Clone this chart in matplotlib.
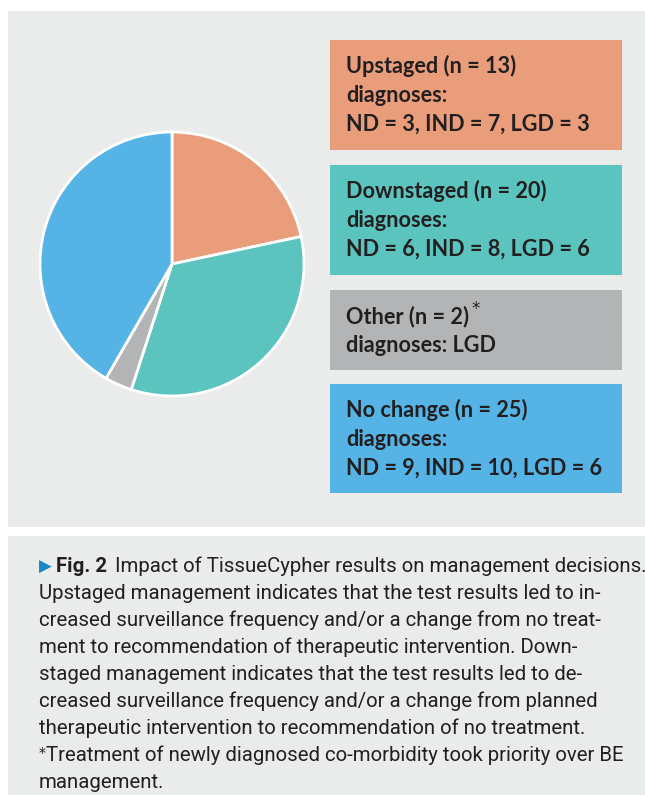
import matplotlib.pyplot as plt
from matplotlib.patches import Rectangle

# management change groups (clockwise from the top)
groups = ["Upstaged", "Downstaged", "Other", "No change"]
counts = [13, 20, 2, 25]
colors = ["#E99D7B", "#5CC4BE", "#B3B4B6", "#55B4E5"]
box_lines = [
    ["Upstaged (n = 13)", "diagnoses:", "ND = 3, IND = 7, LGD = 3"],
    ["Downstaged (n = 20)", "diagnoses:", "ND = 6, IND = 8, LGD = 6"],
    ["Other (n = 2)", "diagnoses: LGD"],
    ["No change (n = 25)", "diagnoses:", "ND = 9, IND = 10, LGD = 6"],
]
caption_first = "Impact of TissueCypher results on management decisions."
caption_lines = [
    "Upstaged management indicates that the test results led to in-",
    "creased surveillance frequency and/or a change from no treat-",
    "ment to recommendation of therapeutic intervention. Down-",
    "staged management indicates that the test results led to de-",
    "creased surveillance frequency and/or a change from planned",
    "therapeutic intervention to recommendation of no treatment.",
]
footnote = ["Treatment of newly diagnosed co-morbidity took priority over BE", "management."]

W, H = 645, 795
fig = plt.figure(figsize=(W / 100, H / 100), dpi=100)
fig.patch.set_facecolor("white")

# background axes in pixel coords
bg = fig.add_axes([0, 0, 1, 1])
bg.set_xlim(0, W)
bg.set_ylim(H, 0)
bg.axis("off")

panel = "#EAEBEB"
txt = "#231F20"
bg.add_patch(Rectangle((8, 11), W - 8, 516, color=panel, lw=0))
bg.add_patch(Rectangle((8, 536), W - 8, H - 536, color=panel, lw=0))

box_font = ["Lato", "DejaVu Sans"]
cap_font = ["Roboto", "DejaVu Sans"]

box_tops = [40, 165, 290, 384]
box_h = [110, 110, 80, 109]
other_title = None
for i in range(len(groups)):
    bg.add_patch(Rectangle((330, box_tops[i]), 292, box_h[i], color=colors[i], lw=0))
    for j, line in enumerate(box_lines[i]):
        t = bg.text(346, box_tops[i] + 33 + 29 * j, line, fontsize=15.6, family=box_font,
                    fontweight="bold", color=txt, va="baseline", ha="left")
        if groups[i] == "Other" and j == 0:
            other_title = t

# caption
cap_x = 39
y0 = 572
dy = 27
fs = 14
t1 = bg.text(cap_x, y0, "\u25B6", fontsize=12, family=["DejaVu Sans"], color="#1B87C9",
             va="baseline", ha="left")
t2 = bg.text(cap_x + 17, y0, "Fig. 2", fontsize=fs, family=cap_font, fontweight="bold",
             color=txt, va="baseline", ha="left")
t3 = bg.text(0, y0, caption_first, fontsize=fs, family=cap_font, color=txt,
             va="baseline", ha="left")
rest = []
for k, line in enumerate(caption_lines):
    rest.append(bg.text(cap_x, y0 + dy * (k + 1), line, fontsize=fs, family=cap_font,
                        color=txt, va="baseline", ha="left"))
k0 = len(caption_lines) + 1
bg.text(cap_x, y0 + dy * k0 - 4, "*", fontsize=10, family=["DejaVu Sans"], color=txt,
        va="baseline", ha="left")
rest.append(bg.text(cap_x + 7, y0 + dy * k0, footnote[0], fontsize=fs, family=cap_font,
                    color=txt, va="baseline", ha="left"))
rest.append(bg.text(cap_x, y0 + dy * (k0 + 1), footnote[1], fontsize=fs, family=cap_font,
                    color=txt, va="baseline", ha="left"))

# fit caption size to the reference line width (first wrapped line ~566 px)
fig.canvas.draw()
rnd = fig.canvas.get_renderer()
wline = rest[0].get_window_extent(rnd).width
fs_new = fs * 566 / wline
for t in [t2, t3] + rest:
    t.set_fontsize(fs_new)
fig.canvas.draw()
x_end = bg.transData.inverted().transform(t2.get_window_extent(rnd).corners()[-1])[0]
t3.set_x(x_end + 8)

# superscript star after "Other (n = 2)"
bb = other_title.get_window_extent(rnd)
sx, sy = bg.transData.inverted().transform((bb.x1, bb.y1))
bg.text(sx + 2, sy + 9, "*", fontsize=12, family=["DejaVu Sans"], color=txt,
        va="baseline", ha="left")

# pie
cx, cy, r = 172, 264, 132
pad = 1.03
ax = fig.add_axes([(cx - r * pad) / W, (H - cy - r * pad) / H, 2 * r * pad / W, 2 * r * pad / H])
ax.pie(counts, colors=colors, startangle=90, counterclock=False,
       wedgeprops=dict(edgecolor="white", linewidth=2))
ax.set_xlim(-pad, pad)
ax.set_ylim(-pad, pad)
ax.set_aspect("equal")
ax.axis("off")

fig.savefig("out.png", dpi=100)
